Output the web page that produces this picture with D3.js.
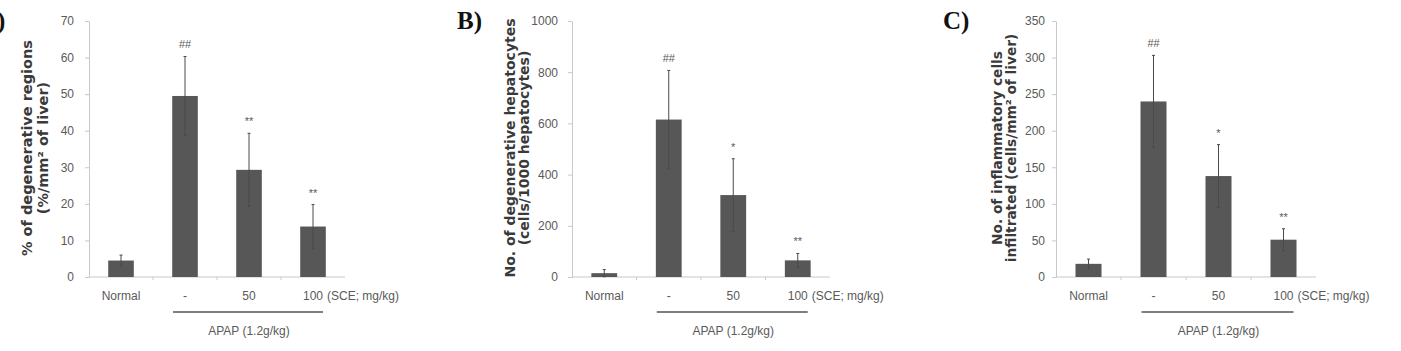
<!DOCTYPE html>
<html>
<head>
<meta charset="utf-8">
<script src="https://cdn.jsdelivr.net/npm/d3@7"></script>
<style>
  body { margin: 0; background: #fff; }
  svg { display: block; }
  .tick text { font-family: "Liberation Sans", Arial, sans-serif; font-size: 12px; fill: #5a5a5a; }
  .axis path, .axis line { stroke: #c8c8c8; }
  .ytitle { font-family: "DejaVu Sans", sans-serif; font-weight: bold; font-size: 13px; fill: #3a3a3a; }
  .lbl { font-family: "Liberation Sans", Arial, sans-serif; font-size: 12px; fill: #5a5a5a; }
  .panel { font-family: "Liberation Serif", "Times New Roman", serif; font-weight: bold; font-size: 25px; fill: #111; }
</style>
</head>
<body>
<div id="chart"></div>
<script>
// categories shared by all three panels
var groups = ["Normal", "-", "50", "100"];

// panel A: % of degenerative regions
var valuesA = [4.5, 49.5, 29.3, 13.8];
var errorsA = [1.5, 10.8, 10, 6];
var marksA = ["", "##", "**", "**"];
var ticksA = [0, 10, 20, 30, 40, 50, 60, 70];

// panel B: degenerative hepatocytes
var valuesB = [15, 615, 320, 65];
var errorsB = [14, 192, 142, 27];
var marksB = ["", "##", "*", "**"];
var ticksB = [0, 200, 400, 600, 800, 1000];

// panel C: inflammatory cells
var valuesC = [18, 240, 138, 51];
var errorsC = [6.5, 63, 43, 15];
var marksC = ["", "##", "*", "**"];
var ticksC = [0, 50, 100, 150, 200, 250, 300, 350];

var svg = d3.select("#chart")
    .append("svg")
    .attr("width", 1401)
    .attr("height", 351);

function drawPanel(opt) {
    var g = svg.append("g")
        .attr("transform", "translate(" + opt.left + ",21)");
    var width = opt.width, height = 256;

    var x = d3.scaleBand()
        .domain(groups)
        .range([0, width]);

    var y = d3.scaleLinear()
        .domain([0, opt.ticks[opt.ticks.length - 1]])
        .range([height, 0]);

    // y axis
    g.append("g")
        .attr("class", "axis")
        .call(d3.axisLeft(y).tickValues(opt.ticks).tickFormat(d3.format("d"))
            .tickSize(4).tickPadding(opt.pad).tickSizeOuter(0));

    // x axis, ticks between categories
    var xa = g.append("g")
        .attr("class", "axis")
        .attr("transform", "translate(0," + height + ")");
    xa.append("line")
        .attr("x1", 0).attr("x2", width);
    xa.selectAll(".sep")
        .data(groups.slice(1))
        .enter().append("line")
        .attr("x1", function (d) { return x(d); })
        .attr("x2", function (d) { return x(d); })
        .attr("y1", 0).attr("y2", 3);

    var bw = x.bandwidth() * 0.4;
    var cx = function (d) { return x(d) + x.bandwidth() / 2; };

    // bars
    g.selectAll(".bar")
        .data(opt.values)
        .enter().append("rect")
        .attr("x", function (d, i) { return cx(groups[i]) - bw / 2; })
        .attr("y", function (d) { return y(d); })
        .attr("width", bw)
        .attr("height", function (d) { return height - y(d); })
        .attr("fill", "#575757");

    // error bars
    opt.values.forEach(function (v, i) {
        var c = cx(groups[i]);
        var e = opt.errors[i];
        g.append("line")
            .attr("x1", c).attr("x2", c)
            .attr("y1", y(v - e)).attr("y2", y(v + e))
            .attr("stroke", "#4a4a4a").attr("stroke-width", 1);
        [v - e, v + e].forEach(function (t) {
            g.append("line")
                .attr("x1", c - 1.5).attr("x2", c + 1.5)
                .attr("y1", y(t)).attr("y2", y(t))
                .attr("stroke", "#4a4a4a").attr("stroke-width", 1);
        });
        if (opt.marks[i]) {
            g.append("text")
                .attr("class", "lbl")
                .attr("x", c)
                .attr("y", y(v + e) - 8)
                .attr("text-anchor", "middle")
                .style("font-size", "11px")
                .text(opt.marks[i]);
        }
    });

    // category labels
    g.selectAll(".cat")
        .data(groups)
        .enter().append("text")
        .attr("class", "lbl")
        .attr("x", function (d) { return cx(d); })
        .attr("y", height + 23)
        .attr("text-anchor", "middle")
        .text(function (d) { return d; });

    g.append("text")
        .attr("class", "lbl")
        .attr("x", cx("100") + 14)
        .attr("y", height + 23)
        .text("(SCE; mg/kg)");

    // APAP bracket
    g.append("line")
        .attr("x1", cx("-") - 12).attr("x2", cx("100") + 10)
        .attr("y1", height + 35).attr("y2", height + 35)
        .attr("stroke", "#555").attr("stroke-width", 1.5);

    g.append("text")
        .attr("class", "lbl")
        .attr("x", (cx("-") + cx("100")) / 2)
        .attr("y", height + 58)
        .attr("text-anchor", "middle")
        .text("APAP (1.2g/kg)");

    // y axis title, two lines
    opt.title.forEach(function (t, k) {
        g.append("text")
            .attr("class", "ytitle")
            .attr("transform", "translate(" + opt.titleX[k] + "," + (height / 2 - 1) + ") rotate(-90)")
            .attr("text-anchor", "middle")
            .attr("dy", "0.35em")
            .style("font-size", opt.titleSize + "px")
            .text(t);
    });

    // panel letter
    svg.append("text")
        .attr("class", "panel")
        .attr("x", opt.left + opt.letterX)
        .attr("y", 29)
        .text(opt.letter);
}

drawPanel({
    left: 89, width: 256, pad: 11, letter: "A)", letterX: -110, titleSize: 14.5,
    values: valuesA, errors: errorsA, marks: marksA, ticks: ticksA,
    title: ["% of degenerative regions", "(%/mm\u00b2 of liver)"], titleX: [-62, -46]
});
drawPanel({
    left: 572, width: 258, pad: 10, letter: "B)", letterX: -115, titleSize: 14,
    values: valuesB, errors: errorsB, marks: marksB, ticks: ticksB,
    title: ["No. of degenerative hepatocytes", "(cells/1000 hepatocytes)"], titleX: [-62, -48]
});
drawPanel({
    left: 1056, width: 260, pad: 7, letter: "C)", letterX: -113, titleSize: 13.7,
    values: valuesC, errors: errorsC, marks: marksC, ticks: ticksC,
    title: ["No. of inflammatory cells", "infiltrated (cells/mm\u00b2 of liver)"], titleX: [-59, -45]
});
</script>
</body>
</html>
